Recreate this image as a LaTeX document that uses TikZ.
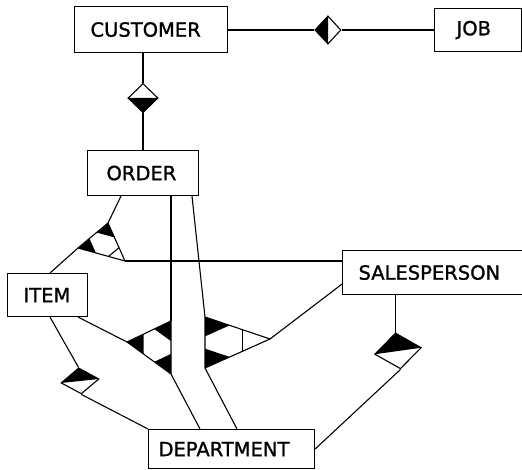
\documentclass[tikz,border=0pt]{standalone}
\usepackage{fontspec}
\setmainfont{DejaVu Sans}
\newfontfamily\erfont[FakeBold=1.2]{DejaVu Sans}
\usetikzlibrary{calc,shapes.geometric}

\newcommand{\darkcorner}[3]{\fill ($(#1)!0.38!(#2)$) -- (#1) -- ($(#1)!0.38!(#3)$) -- cycle;}
\newcommand{\opencorner}[4]{\draw[link] ($(#1)!#4!(#2)$) -- ($(#1)!#4!(#3)$);}

\begin{document}
\begin{tikzpicture}[x=1pt, y=-1pt,
    entity/.style={rectangle, draw, line width=1.1pt, anchor=north west,
        align=left, inner xsep=16pt, inner ysep=0pt,
        font=\erfont\fontsize{19.5}{22}\selectfont},
    rel/.style={diamond, draw, line width=1.1pt, inner sep=0pt},
    link/.style={line width=1.1pt, line join=round}]
\useasboundingbox (0,0) rectangle (522,470);

\node[entity, minimum height=46pt, text width=121pt] (customer) at (74,6) {CUSTOMER};
\node[entity, minimum height=43pt, text width=43pt, inner xsep=22pt] (job) at (434,8) {JOB};
\node[entity, minimum height=45pt, text width=73pt, inner xsep=19pt] (order) at (87,150) {ORDER};
\node[entity, minimum height=43pt, text width=48pt] (item) at (7,273) {ITEM};
\node[entity, minimum height=44pt, text width=150pt] (salesperson) at (342,250) {SALESPERSON};
\node[entity, minimum height=39pt, text width=146pt, inner xsep=10pt] (department) at (148,429) {DEPARTMENT};

% binary relationships
\node[rel, minimum width=26pt, minimum height=28pt] (d2) at (328,30) {};
\fill (d2.north) -- (d2.west) -- (d2.south) -- cycle;
\node[rel, minimum width=30pt, minimum height=29pt] (d1) at (143,98) {};
\fill (d1.west) -- (d1.south) -- (d1.east) -- cycle;
\node[rel, minimum width=38pt, minimum height=26pt, rotate=6] (d3) at (80,381) {};
\fill (d3.west) -- (d3.north) -- (d3.east) -- cycle;
\node[rel, minimum width=47pt, minimum height=36pt, rotate=8] (d4) at (398,351) {};
\fill (d4.west) -- (d4.north) -- (d4.east) -- cycle;

% ternary relationships
\coordinate (t1o) at (108,223);
\coordinate (t1i) at (78,248);
\coordinate (t1s) at (125,261);
\draw[link] (t1o) -- (t1i) -- (t1s) -- cycle;
\darkcorner{t1o}{t1i}{t1s}
\darkcorner{t1i}{t1o}{t1s}
\opencorner{t1s}{t1o}{t1i}{0.35}

\coordinate (t2o) at (171,321);
\coordinate (t2i) at (127,342);
\coordinate (t2d) at (171,374);
\draw[link] (t2o) -- (t2i) -- (t2d) -- cycle;
\darkcorner{t2o}{t2i}{t2d}
\darkcorner{t2i}{t2o}{t2d}
\darkcorner{t2d}{t2o}{t2i}

\coordinate (t3o) at (205,317);
\coordinate (t3d) at (205,368);
\coordinate (t3s) at (270,339);
\draw[link] (t3o) -- (t3d) -- (t3s) -- cycle;
\darkcorner{t3o}{t3d}{t3s}
\darkcorner{t3d}{t3o}{t3s}
\opencorner{t3s}{t3o}{t3d}{0.42}

\draw[link] (customer.east |- d2) -- (d2.west);
\draw[link] (d2.east) -- (job.west |- d2);
\draw[link] (d1 |- customer.south) -- (d1.north);
\draw[link] (d1.south) -- (d1 |- order.north);

\draw[link] ([xshift=34pt]order.south west) -- (t1o);
\draw[link] ([xshift=43pt]item.north west) -- (t1i);
\draw[link] (t1s) -- (t1s -| salesperson.west);

\draw[link] (t2o |- order.south) -- (t2o);
\draw[link] ([xshift=-10pt]item.south east) -- (t2i);
\draw[link] (t2d) -- ([xshift=52pt]department.north west);

\draw[link] ([xshift=105pt]order.south west) -- (t3o);
\draw[link] (t3s) -- ([yshift=11pt]salesperson.south west);
\draw[link] (t3d) -- ([xshift=89pt]department.north west);

\draw[link] (d4.north |- salesperson.south) -- (d4.north);
\draw[link] (d4.south) -- (department.east);
\draw[link] ([xshift=43pt]item.south west) -- (d3.north);
\draw[link] (d3.south) -- (department.north west);
\end{tikzpicture}
\end{document}
